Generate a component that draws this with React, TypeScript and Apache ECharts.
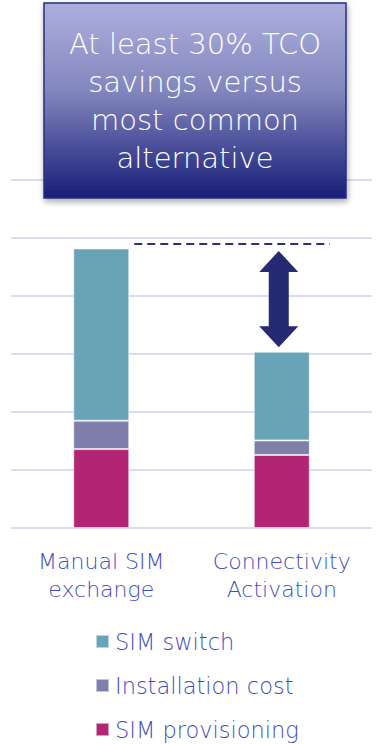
import React, { useEffect, useRef } from "react";
import * as echarts from "echarts";

const categories = ["Manual SIM\nexchange", "Connectivity\nActivation"];
const simProvisioning = [1.36, 1.26];
const installationCost = [0.49, 0.25];
const simSwitch = [2.97, 1.53];
const seriesNames = ["SIM switch", "Installation cost", "SIM provisioning"];
const calloutText = "At least 30% TCO\nsavings versus\nmost common\nalternative";

const COLORS = {
  switch: "#68a3b8",
  install: "#7e7fab",
  prov: "#b22572",
  text: "#3f4cc4",
  grid: "#d9dcf3",
  navy: "#252a73",
};
const FONT = "DejaVu Sans";

export default function App() {
  const ref = useRef<HTMLDivElement>(null);
  useEffect(() => {
    document.body.style.margin = "0";
    const chart = echarts.init(ref.current!, undefined, { renderer: "svg" });
    const barStyle = (c: string) => ({
      color: c,
      borderColor: "rgba(255,255,255,0.55)",
      borderWidth: 1,
    });
    chart.setOption({
      animation: false,
      grid: { left: 11, right: 4, top: 180, bottom: 216 },
      legend: {
        orient: "vertical",
        left: 95,
        top: 630,
        padding: 0,
        itemWidth: 13,
        itemHeight: 13,
        itemGap: 21,
        icon: "rect",
        data: seriesNames,
        textStyle: { color: COLORS.text, fontSize: 22.5, lineHeight: 22, fontWeight: 200, fontFamily: FONT, padding: [0, 0, 0, 1] },
      },
      xAxis: {
        type: "category",
        data: categories,
        axisLine: { show: false },
        axisTick: { show: false },
        axisLabel: {
          color: COLORS.text,
          fontSize: 22,
          lineHeight: 28,
          fontWeight: 200,
          fontFamily: FONT,
          margin: 19,
        },
      },
      yAxis: {
        type: "value",
        min: 0,
        max: 6,
        interval: 1,
        axisLabel: { show: false },
        axisLine: { show: false },
        axisTick: { show: false },
        splitLine: { lineStyle: { color: COLORS.grid, width: 2 } },
      },
      series: [
        { name: "SIM provisioning", type: "bar", stack: "t", barWidth: 56, data: simProvisioning, itemStyle: barStyle(COLORS.prov) },
        { name: "Installation cost", type: "bar", stack: "t", barWidth: 56, data: installationCost, itemStyle: barStyle(COLORS.install) },
        { name: "SIM switch", type: "bar", stack: "t", barWidth: 56, data: simSwitch, itemStyle: barStyle(COLORS.switch) },
      ],
    });

    const total0 = simProvisioning[0] + installationCost[0] + simSwitch[0];
    const total1 = simProvisioning[1] + installationCost[1] + simSwitch[1];
    const p0 = chart.convertToPixel({ gridIndex: 0 }, [0, total0]) as number[];
    const p1 = chart.convertToPixel({ gridIndex: 0 }, [1, total1]) as number[];
    const dashY = p0[1] - 4.5;
    const x0 = p0[0] + 28 + 5;
    const x1 = p1[0] + 48;
    const cx = p1[0] - 3;
    const top = dashY + 7;
    const bot = p1[1] - 4.5;
    const hw = 19.5, hh = 21, sw = 10;

    chart.setOption({
      graphic: [
        {
          type: "line",
          shape: { x1: x0, y1: dashY, x2: x1, y2: dashY },
          style: { stroke: "#2b3080", lineWidth: 2, lineDash: [8, 5] },
          z: 10,
        },
        {
          type: "polygon",
          shape: {
            points: [
              [cx, top], [cx + hw, top + hh], [cx + sw, top + hh], [cx + sw, bot - hh],
              [cx + hw, bot - hh], [cx, bot], [cx - hw, bot - hh], [cx - sw, bot - hh],
              [cx - sw, top + hh], [cx - hw, top + hh],
            ],
          },
          style: { fill: COLORS.navy },
          z: 10,
        },
        {
          type: "rect",
          shape: { x: 44, y: 3, width: 302, height: 195 },
          style: {
            fill: new echarts.graphic.LinearGradient(0, 0, 0, 1, [
              { offset: 0, color: "#adb0de" },
              { offset: 0.45, color: "#8286bd" },
              { offset: 1, color: "#181d78" },
            ]),
            stroke: "#2a2f7c",
            lineWidth: 1.5,
            shadowBlur: 6,
            shadowOffsetX: 1,
            shadowOffsetY: 3,
            shadowColor: "rgba(0,0,0,0.35)",
          },
          z: 20,
        },
        {
          type: "text",
          x: 195,
          y: 101,
          style: {
            text: calloutText,
            fill: "#ffffff",
            fontSize: 29,
            fontWeight: 200,
            fontFamily: FONT,
            lineHeight: 38,
            align: "center",
            verticalAlign: "middle",
          },
          z: 21,
        },
      ],
    });
    return () => chart.dispose();
  }, []);
  return <div ref={ref} style={{ width: 376, height: 744 }} />;
}
